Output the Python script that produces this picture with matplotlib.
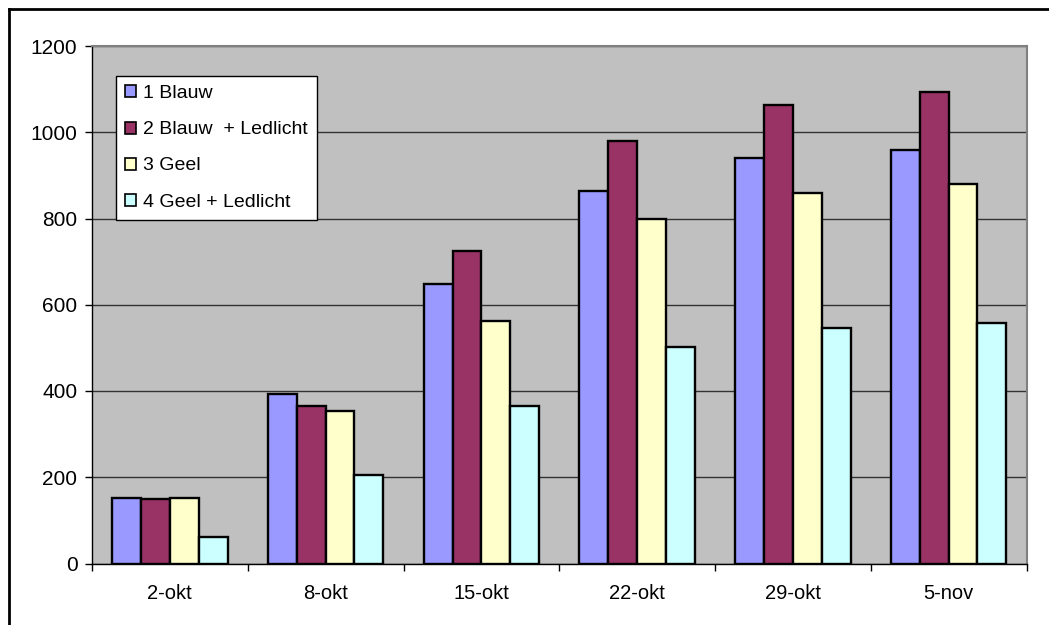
import matplotlib
matplotlib.use("Agg")
import matplotlib.pyplot as plt
from matplotlib.lines import Line2D
from matplotlib.patches import Patch
import numpy as np

plt.rcParams['font.family'] = ['Liberation Sans', 'DejaVu Sans']

categories = ["2-okt", "8-okt", "15-okt", "22-okt", "29-okt", "5-nov"]
series_names = ["1 Blauw", "2 Blauw  + Ledlicht", "3 Geel", "4 Geel + Ledlicht"]
blauw = [153, 392, 649, 863, 941, 960]
blauw_led = [150, 366, 724, 980, 1064, 1094]
geel = [153, 354, 562, 798, 859, 880]
geel_led = [61, 206, 366, 501, 545, 557]
y_ticks = [0, 200, 400, 600, 800, 1000, 1200]

series = [blauw, blauw_led, geel, geel_led]
colors = ["#9999FF", "#993366", "#FFFFCC", "#CCFFFF"]

W, H = 1049, 625
fig = plt.figure(figsize=(W / 100, H / 100), dpi=100)
fig.patch.set_facecolor("white")

left, right, top, bottom = 92, 1026.5, 46, 563.5
ax = fig.add_axes([left / W, 1 - bottom / H, (right - left) / W, (bottom - top) / H])
ax.set_facecolor("#C0C0C0")

x = np.arange(len(categories))
bw = 0.185
for i, (vals, col) in enumerate(zip(series, colors)):
    ax.bar(x + (i - 1.5) * bw, vals, width=bw, color=col, edgecolor="black",
           linewidth=1.7, label=series_names[i], zorder=3)

ax.set_xlim(-0.5, len(categories) - 0.5)
ax.set_ylim(0, 1200)
ax.set_yticks(y_ticks)
ax.yaxis.grid(True, color="#333333", linewidth=1.0, zorder=1)
ax.set_axisbelow(True)

ax.set_xticks(x)
ax.set_xticklabels(categories, fontsize=14.5)
ax.set_xticks(np.arange(len(categories) + 1) - 0.5, minor=True)
ax.tick_params(axis="x", which="major", length=0, pad=15)
ax.tick_params(axis="x", which="minor", length=5, width=1, direction="out")
ax.tick_params(axis="y", length=5, width=1, direction="out", pad=5.5, labelsize=15)

for s in ("top", "right"):
    ax.spines[s].set_color("#808080")
    ax.spines[s].set_linewidth(1.5)
for s in ("left", "bottom"):
    ax.spines[s].set_color("black")
    ax.spines[s].set_linewidth(1)

handles = [Patch(facecolor=c, edgecolor="black", linewidth=1.2) for c in colors]
leg = fig.legend(handles, series_names, loc="upper left",
                 bbox_to_anchor=(116 / W, 1 - 76 / H), bbox_transform=fig.transFigure,
                 borderaxespad=0, fontsize=14, handlelength=0.57, handleheight=0.57,
                 handletextpad=0.32, labelspacing=0.98, borderpad=0.48,
                 fancybox=False, framealpha=1, edgecolor="black")
leg.get_frame().set_linewidth(1)

# outer chart frame (top and left edges)
fig.add_artist(Line2D([9 / W, 1], [1 - 9 / H, 1 - 9 / H], transform=fig.transFigure,
                      color="black", linewidth=2))
fig.add_artist(Line2D([9 / W, 9 / W], [0, 1 - 9 / H], transform=fig.transFigure,
                      color="black", linewidth=2))

fig.savefig("out.png", dpi=100)
